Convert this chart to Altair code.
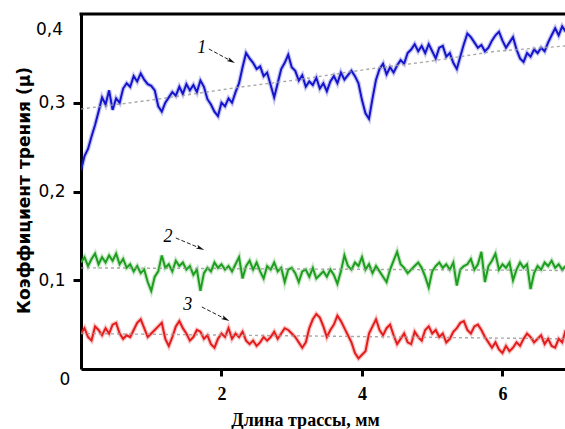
import altair as alt
import pandas as pd

# ---- data (friction coefficient vs track length) ----
x_step = 0.05  # mm between samples

blue_mu = [
    0.224, 0.240, 0.248, 0.262, 0.275, 0.290, 0.306, 0.298, 0.314, 0.292,
    0.305, 0.300, 0.316, 0.322, 0.318, 0.330, 0.324, 0.333, 0.326, 0.321,
    0.319, 0.314, 0.296, 0.290, 0.300, 0.306, 0.312, 0.308, 0.318, 0.310,
    0.321, 0.314, 0.320, 0.312, 0.325, 0.318, 0.304, 0.298, 0.290, 0.285,
    0.300, 0.296, 0.305, 0.300, 0.312, 0.322, 0.340, 0.356, 0.350, 0.345,
    0.338, 0.341, 0.330, 0.334, 0.320, 0.306, 0.322, 0.338, 0.345, 0.354,
    0.340, 0.336, 0.325, 0.331, 0.318, 0.324, 0.320, 0.328, 0.316, 0.322,
    0.313, 0.324, 0.330, 0.322, 0.334, 0.326, 0.331, 0.336, 0.330, 0.322,
    0.303, 0.288, 0.282, 0.305, 0.326, 0.338, 0.344, 0.332, 0.340, 0.334,
    0.342, 0.348, 0.344, 0.356, 0.360, 0.366, 0.358, 0.364, 0.356, 0.366,
    0.358, 0.350, 0.362, 0.364, 0.352, 0.356, 0.345, 0.338, 0.352, 0.366,
    0.378, 0.374, 0.368, 0.362, 0.365, 0.358, 0.362, 0.370, 0.376, 0.380,
    0.370, 0.362, 0.368, 0.374, 0.360, 0.350, 0.346, 0.356, 0.352, 0.360,
    0.356, 0.362, 0.358, 0.368, 0.376, 0.384, 0.376, 0.386, 0.380,
]

green_mu = [
    0.120, 0.126, 0.116, 0.124, 0.130, 0.118, 0.126, 0.120, 0.128, 0.122,
    0.130, 0.118, 0.124, 0.114, 0.118, 0.110, 0.116, 0.108, 0.112, 0.098,
    0.088, 0.104, 0.110, 0.128, 0.114, 0.118, 0.110, 0.122, 0.116, 0.120,
    0.112, 0.116, 0.106, 0.112, 0.088, 0.108, 0.114, 0.110, 0.120, 0.114,
    0.118, 0.112, 0.116, 0.110, 0.118, 0.126, 0.102, 0.116, 0.122, 0.112,
    0.120, 0.110, 0.102, 0.116, 0.112, 0.120, 0.110, 0.114, 0.098, 0.112,
    0.114, 0.108, 0.098, 0.110, 0.112, 0.104, 0.114, 0.102, 0.106, 0.110,
    0.104, 0.112, 0.106, 0.096, 0.110, 0.128, 0.116, 0.112, 0.120, 0.116,
    0.126, 0.112, 0.118, 0.108, 0.116, 0.110, 0.104, 0.098, 0.112, 0.122,
    0.132, 0.118, 0.114, 0.108, 0.112, 0.116, 0.120, 0.114, 0.104, 0.092,
    0.110, 0.116, 0.120, 0.114, 0.118, 0.112, 0.120, 0.094, 0.112, 0.116,
    0.118, 0.124, 0.112, 0.118, 0.132, 0.098, 0.116, 0.122, 0.130, 0.112,
    0.118, 0.114, 0.120, 0.100, 0.112, 0.120, 0.114, 0.118, 0.090, 0.108,
    0.116, 0.112, 0.120, 0.116, 0.122, 0.114, 0.118, 0.112, 0.116,
]

red_mu = [
    0.040, 0.046, 0.036, 0.032, 0.048, 0.044, 0.038, 0.046, 0.040, 0.050,
    0.052, 0.040, 0.034, 0.038, 0.036, 0.044, 0.052, 0.056, 0.046, 0.036,
    0.040, 0.044, 0.048, 0.052, 0.034, 0.026, 0.036, 0.048, 0.054, 0.046,
    0.040, 0.032, 0.036, 0.044, 0.042, 0.034, 0.038, 0.028, 0.024, 0.034,
    0.040, 0.036, 0.046, 0.034, 0.040, 0.036, 0.042, 0.032, 0.028, 0.032,
    0.026, 0.030, 0.036, 0.032, 0.036, 0.042, 0.034, 0.040, 0.046, 0.044,
    0.040, 0.036, 0.030, 0.024, 0.030, 0.046, 0.056, 0.062, 0.058, 0.048,
    0.036, 0.044, 0.050, 0.060, 0.054, 0.046, 0.038, 0.030, 0.018, 0.012,
    0.016, 0.020, 0.040, 0.048, 0.056, 0.044, 0.038, 0.046, 0.050, 0.038,
    0.028, 0.034, 0.040, 0.030, 0.028, 0.042, 0.036, 0.032, 0.044, 0.048,
    0.040, 0.044, 0.036, 0.040, 0.030, 0.034, 0.042, 0.046, 0.052, 0.054,
    0.044, 0.040, 0.048, 0.050, 0.044, 0.036, 0.030, 0.024, 0.030, 0.022,
    0.018, 0.026, 0.020, 0.024, 0.030, 0.026, 0.034, 0.040, 0.036, 0.030,
    0.034, 0.038, 0.028, 0.034, 0.026, 0.024, 0.034, 0.030, 0.044,
]

# dashed trend lines
blue_trend_x = [0.0, 1.0, 2.3, 3.0, 4.1, 4.9, 5.9, 6.9]
blue_trend_y = [0.293, 0.303, 0.318, 0.325, 0.338, 0.346, 0.358, 0.364]
green_trend_x = [0.0, 6.9]
green_trend_y = [0.114, 0.111]
red_trend_x = [0.0, 6.9]
red_trend_y = [0.040, 0.034]

# curve labels with arrows
ann_text = ["1", "2", "3"]
ann_tx = [1.72, 1.24, 1.52]
ann_ty = [0.362, 0.149, 0.072]
arr_x0 = [1.82, 1.35, 1.72]
arr_y0 = [0.3606, 0.1476, 0.0699]
arr_x1 = [2.14, 1.70, 2.06]
arr_y1 = [0.3470, 0.1360, 0.0562]
arr_angle = [118, 113, 117]

series_names = ["1", "2", "3"]
series_colors = ["#1414cc", "#1e9e1e", "#e41c1c"]

# ---- tables ----
def frame(name, vals):
    return pd.DataFrame({
        "x": [round(i * x_step, 2) for i in range(len(vals))],
        "mu": vals,
        "series": name,
    })

lines_df = pd.concat([frame("1", blue_mu), frame("2", green_mu), frame("3", red_mu)])
trend_df = pd.concat([
    pd.DataFrame({"x": blue_trend_x, "mu": blue_trend_y, "series": "1"}),
    pd.DataFrame({"x": green_trend_x, "mu": green_trend_y, "series": "2"}),
    pd.DataFrame({"x": red_trend_x, "mu": red_trend_y, "series": "3"}),
])
ann_df = pd.DataFrame({
    "t": ann_text, "tx": ann_tx, "ty": ann_ty,
    "x0": arr_x0, "y0": arr_y0, "x1": arr_x1, "y1": arr_y1, "ang": arr_angle,
})

W, H = 484, 355
xs = alt.Scale(domain=[0, 6.89], nice=False, zero=False)
ys = alt.Scale(domain=[0, 0.4], nice=False)
cs = alt.Scale(domain=series_names, range=series_colors)

x_axis = alt.Axis(
    values=[2, 4, 6], format="d", grid=False,
    labelFont="Liberation Serif", labelFontWeight="bold", labelFontSize=18,
    labelColor="black", labelPadding=9,
    tickSize=7, tickWidth=3, tickColor="black",
    domainWidth=3, domainColor="black",
    title="Длина трассы, мм", titleFont="Liberation Serif", titleFontWeight="bold",
    titleFontSize=18, titleColor="black", titleX=224, titleY=51,
    titleBaseline="middle", titleAlign="center",
)
y_axis = alt.Axis(
    values=[0.1, 0.2, 0.3], grid=False,
    labelExpr="replace(format(datum.value, '.1f'), '.', ',')",
    labelFont="DejaVu Sans", labelFontSize=17, labelColor="black", labelPadding=8,
    tickSize=8, tickWidth=3, tickColor="black",
    domainWidth=3, domainColor="black",
    title="Коэффициент трения (μ)", titleFont="DejaVu Sans", titleFontWeight="bold",
    titleFontSize=17, titleColor="black", titleX=-57, titleY=176,
    titleAngle=270, titleAlign="center", titleBaseline="middle",
)

def X(field):
    return alt.X(field, type="quantitative", scale=xs, axis=x_axis)

def Y(field):
    return alt.Y(field, type="quantitative", scale=ys, axis=y_axis)

halo = alt.Chart(lines_df).mark_line(strokeWidth=4.5, opacity=0.25, clip=True).encode(
    x=X("x"), y=Y("mu"),
    color=alt.Color("series:N", scale=cs, legend=None),
    detail="series:N",
)
core = alt.Chart(lines_df).mark_line(strokeWidth=2, clip=True).encode(
    x=X("x"), y=Y("mu"),
    color=alt.Color("series:N", scale=cs, legend=None),
    detail="series:N",
)
trend = alt.Chart(trend_df).mark_line(
    strokeWidth=1.4, strokeDash=[3, 3], color="#9a9a9a", opacity=0.85, clip=True
).encode(x=X("x"), y=Y("mu"), detail="series:N")

ann_labels = alt.Chart(ann_df).mark_text(
    font="Liberation Serif", fontStyle="italic", fontSize=18, color="black",
    align="center", baseline="middle",
).encode(x=X("tx"), y=Y("ty"), text="t:N")
ann_lines = alt.Chart(ann_df).mark_rule(
    color="#222222", strokeWidth=1, strokeDash=[4, 2]
).encode(x=X("x0"), y=Y("y0"), x2="x1:Q", y2="y1:Q")
ann_heads = alt.Chart(ann_df).mark_point(
    shape="M0,-1L0.5,1L0,0.55L-0.5,1Z", filled=True, color="#111111",
    size=70, opacity=1,
).encode(x=X("x1"), y=Y("y1"), angle=alt.Angle("ang:Q", scale=None))

one = pd.DataFrame({"a": [0]})
top_border = alt.Chart(one).mark_rule(color="black", strokeWidth=3).encode(
    x=alt.value(-1.5), x2=alt.value(W), y=alt.value(0)
)
lbl_top = alt.Chart(one).mark_text(
    font="DejaVu Sans", fontSize=17, color="black", align="right", baseline="middle"
).encode(x=alt.value(-18), y=alt.value(16), text=alt.value("0,4"))
lbl_zero = alt.Chart(one).mark_text(
    font="DejaVu Sans", fontSize=17, color="black", align="center", baseline="middle"
).encode(x=alt.value(-16), y=alt.value(366), text=alt.value("0"))

chart = alt.layer(
    halo, core, trend, ann_lines, ann_heads, ann_labels, top_border, lbl_top, lbl_zero
).properties(
    width=W, height=H,
    padding={"left": 81, "top": 14, "right": 0, "bottom": 60},
    autosize=alt.AutoSizeParams(type="none"),
    background="white",
).configure_view(stroke=None)

chart.save("out.html", embed_options={"renderer": "svg", "actions": False})
